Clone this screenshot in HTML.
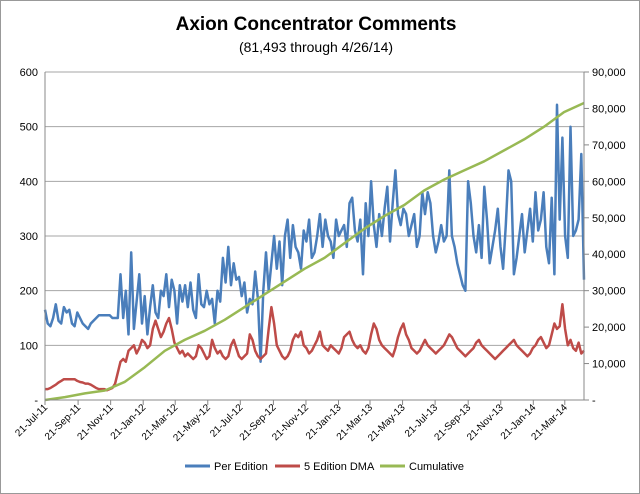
<!DOCTYPE html>
<html><head><meta charset="utf-8"><style>
body{margin:0;background:#fff;font-family:"Liberation Sans",sans-serif}
#wrap{width:640px;height:494px;position:relative;overflow:hidden}
</style></head><body>
<div id="wrap">
<svg id="svg" width="640" height="494" xmlns="http://www.w3.org/2000/svg">
<rect x="0.5" y="0.5" width="639" height="493" fill="#fff" stroke="#999"/>
<text x="316" y="30" text-anchor="middle" font-size="19" font-weight="bold" fill="#000">Axion Concentrator Comments</text>
<text x="316" y="52" text-anchor="middle" font-size="14" fill="#000">(81,493 through 4/26/14)</text>
<g id="grid"></g><g id="series"></g><g id="axes"></g>
<g font-size="11">
<line x1="185" y1="466" x2="210" y2="466" stroke="#4a7ebb" stroke-width="3"/>
<text x="214" y="470">Per Edition</text>
<line x1="275" y1="466" x2="300" y2="466" stroke="#be4b48" stroke-width="3"/>
<text x="304" y="470">5  Edition DMA</text>
<line x1="380" y1="466" x2="405" y2="466" stroke="#98b954" stroke-width="3"/>
<text x="409" y="470">Cumulative</text>
</g>
</svg></div>
<script>
const perEdition=[165,140,135,150,175,145,140,170,160,165,140,135,160,150,140,135,130,140,145,150,155,155,155,155,155,150,150,150,
230,150,200,120,270,130,180,230,140,190,120,170,210,160,150,200,190,230,170,220,200,140,210,180,210,170,215,165,
150,230,175,170,200,175,185,140,200,180,260,215,280,210,250,220,225,190,215,160,185,175,235,185,70,200,
270,200,250,300,240,290,210,300,330,260,320,280,270,240,310,290,330,260,270,300,340,280,330,300,290,260,330,300,310,
320,280,360,370,310,290,330,230,360,300,400,320,280,340,300,350,390,290,360,420,340,320,350,340,300,320,340,280,300,380,
340,380,360,300,270,290,320,290,300,420,300,280,250,230,210,200,400,360,300,270,320,260,390,330,250,280,310,350,280,240,
320,420,400,230,260,300,340,270,310,350,290,380,310,330,380,280,250,370,230,540,330,480,300,260,500,300,310,330,450,220];
const dma=[20,20,22,25,28,32,35,38,38,38,38,38,35,33,32,30,30,28,25,22,20,20,20,18,20,22,30,50,
70,75,70,90,95,100,85,95,110,105,95,100,130,145,130,115,125,140,150,130,105,95,85,90,80,85,80,75,
80,100,95,85,75,80,110,95,85,90,80,75,80,100,110,95,80,75,80,85,120,110,90,80,75,80,85,
130,170,140,100,90,80,75,80,90,110,120,115,125,100,95,85,90,100,110,125,100,95,90,100,95,90,85,95,115,
120,125,110,100,95,100,90,85,95,120,140,130,110,100,95,90,85,80,95,115,130,140,120,110,95,90,85,90,100,
110,100,95,90,85,90,95,100,110,120,115,105,95,90,85,80,85,90,95,105,110,100,95,90,85,80,75,80,85,90,
95,100,105,110,100,95,90,85,80,85,95,100,110,115,105,95,100,120,140,130,135,175,130,100,110,95,90,105,85,90];
const cumulative=[0,800,1800,2600,5000,9000,13500,16500,19000,22000,25500,29000,32500,36000,39000,43000,47000,50500,53500,57500,60500,63000,65500,68500,71500,75000,79000,81493];
const leftTicks=["-","100","200","300","400","500","600"];
const rightTicks=["-","10,000","20,000","30,000","40,000","50,000","60,000","70,000","80,000","90,000"];
const xLabels=["21-Jul-11","21-Sep-11","21-Nov-11","21-Jan-12","21-Mar-12","21-May-12","21-Jul-12","21-Sep-12","21-Nov-12","21-Jan-13","21-Mar-13","21-May-13","21-Jul-13","21-Sep-13","21-Nov-13","21-Jan-14","21-Mar-14"];
const X0=45,X1=584,Y0=400,Y1=72,NS="http://www.w3.org/2000/svg";
const t0=Date.UTC(2011,6,21),t1=Date.UTC(2014,3,26);
const yL=v=>Y0-(v/600)*(Y0-Y1), yR=v=>Y0-(v/90000)*(Y0-Y1);
const xi=(i,n)=>X0+i*(X1-X0)/(n-1);
function mk(tag,attrs,parent){const e=document.createElementNS(NS,tag);for(const k in attrs)e.setAttribute(k,attrs[k]);document.getElementById(parent).appendChild(e);return e;}
for(let i=0;i<=6;i++){
 const y=yL(i*100);
 if(i>0){const g=mk('line',{x1:X0,x2:X1,y1:y,y2:y,stroke:'#a6a6a6','stroke-width':1},'grid');
 
 }
 const t=mk('text',{x:38,y:y+4,'text-anchor':'end','font-size':11},'axes');t.textContent=leftTicks[i];
 
 
}
for(let i=0;i<=9;i++){
 const y=yR(i*10000);
 mk('line',{x1:X1,x2:X1+5,y1:y,y2:y,stroke:'#888'},'axes');
 const t=mk('text',{x:592,y:y+4,'font-size':11},'axes');t.textContent=rightTicks[i];
 
 
}
mk('line',{x1:X0,x2:X0,y1:Y1,y2:Y0,stroke:'#888'},'axes');
mk('line',{x1:X1,x2:X1,y1:Y1,y2:Y0,stroke:'#888'},'axes');
mk('line',{x1:X0,x2:X1,y1:Y0,y2:Y0,stroke:'#888'},'axes');
const mon={Jan:0,Mar:2,May:4,Jul:6,Sep:8,Nov:10};
xLabels.forEach(l=>{
 const p=l.split('-');const t=Date.UTC(2000+ +p[2],mon[p[1]],21);
 const x=X0+(t-t0)/(t1-t0)*(X1-X0);
 mk('line',{x1:x,x2:x,y1:Y0,y2:Y0+5,stroke:'#888'},'axes');
 const e=mk('text',{x:x+3,y:Y0+8,'text-anchor':'end','font-size':10,transform:`rotate(-45 ${x+3} ${Y0+8})`},'axes');
 e.textContent=l;
 
 
});
function line(arr,yf,color,name){
 const pts=arr.map((v,i)=>xi(i,arr.length).toFixed(1)+','+yf(v).toFixed(1)).join(' ');
 const p=mk('polyline',{points:pts,fill:'none',stroke:color,'stroke-width':2.5,'stroke-linejoin':'round'},'series');
 
 
}
line(perEdition,yL,'#4a7ebb','per-edition-line');
line(dma,yL,'#be4b48','dma-line');
line(cumulative,yR,'#98b954','cumulative-line');
</script>
</body></html>
